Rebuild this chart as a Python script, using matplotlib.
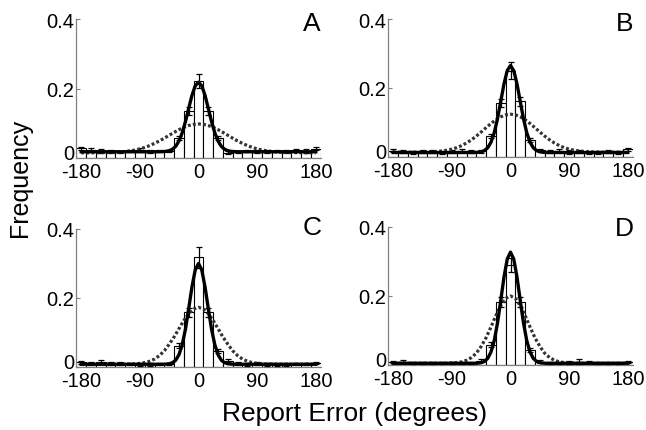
import numpy as np
import matplotlib
matplotlib.use("Agg")
import matplotlib.pyplot as plt
from matplotlib.transforms import ScaledTranslation

plt.rcParams['font.family'] = ['Liberation Sans', 'DejaVu Sans']
plt.rcParams['axes.unicode_minus'] = False

panels = ["A", "B", "C", "D"]
bin_centers = [-180, -165, -150, -135, -120, -105, -90, -75, -60, -45, -30, -15, 0,
               15, 30, 45, 60, 75, 90, 105, 120, 135, 150, 165, 180]

bars_A = [0.028, 0.022, 0.020, 0.018, 0.017, 0.020, 0.022, 0.018, 0.020, 0.020, 0.057, 0.135, 0.222,
          0.135, 0.058, 0.015, 0.017, 0.020, 0.018, 0.018, 0.020, 0.018, 0.022, 0.020, 0.027]
err_A = [0.004, 0.006, 0.005, 0.004, 0.004, 0.004, 0.006, 0.004, 0.004, 0.004, 0.006, 0.012, 0.020,
         0.012, 0.006, 0.004, 0.004, 0.004, 0.004, 0.004, 0.004, 0.004, 0.005, 0.005, 0.004]
bars_B = [0.018, 0.015, 0.014, 0.016, 0.015, 0.013, 0.016, 0.018, 0.016, 0.017, 0.060, 0.156, 0.250,
          0.161, 0.050, 0.020, 0.015, 0.018, 0.015, 0.017, 0.013, 0.014, 0.016, 0.014, 0.022]
err_B = [0.004, 0.004, 0.004, 0.004, 0.004, 0.004, 0.005, 0.004, 0.004, 0.004, 0.006, 0.012, 0.025,
         0.012, 0.006, 0.004, 0.004, 0.004, 0.005, 0.004, 0.004, 0.004, 0.004, 0.004, 0.004]
bars_C = [0.014, 0.010, 0.015, 0.010, 0.010, 0.009, 0.008, 0.008, 0.009, 0.009, 0.062, 0.158, 0.318,
          0.158, 0.047, 0.018, 0.010, 0.008, 0.010, 0.008, 0.007, 0.007, 0.008, 0.008, 0.012]
err_C = [0.004, 0.004, 0.005, 0.004, 0.004, 0.004, 0.004, 0.004, 0.004, 0.004, 0.007, 0.012, 0.030,
         0.012, 0.006, 0.004, 0.004, 0.004, 0.004, 0.004, 0.003, 0.003, 0.003, 0.003, 0.003]
bars_D = [0.008, 0.010, 0.007, 0.007, 0.007, 0.006, 0.006, 0.005, 0.006, 0.012, 0.059, 0.182, 0.290,
          0.183, 0.043, 0.010, 0.006, 0.006, 0.008, 0.010, 0.008, 0.007, 0.006, 0.006, 0.008]
err_D = [0.003, 0.004, 0.003, 0.003, 0.003, 0.003, 0.003, 0.003, 0.003, 0.004, 0.007, 0.015, 0.020,
         0.015, 0.006, 0.004, 0.003, 0.003, 0.004, 0.006, 0.003, 0.003, 0.003, 0.003, 0.003]

solid_x = [-180, -150, -120, -90, -60, -55, -50, -45, -40, -35, -30, -25, -20, -15, -10, -5, 0,
           5, 10, 15, 20, 25, 30, 35, 40, 45, 50, 55, 60, 90, 120, 150, 180]
solid_A = [0.018, 0.018, 0.018, 0.018, 0.018, 0.0184, 0.0191, 0.021, 0.0252, 0.0336, 0.0488, 0.0725,
           0.105, 0.1432, 0.1804, 0.2078, 0.218, 0.2078, 0.1804, 0.1432, 0.105, 0.0725, 0.0488,
           0.0336, 0.0252, 0.021, 0.0191, 0.0184, 0.018, 0.018, 0.018, 0.018, 0.018]
solid_B = [0.013, 0.013, 0.013, 0.013, 0.013, 0.013, 0.0137, 0.015, 0.0186, 0.0267, 0.0426, 0.070,
           0.1103, 0.1607, 0.2116, 0.2505, 0.265, 0.2505, 0.2116, 0.1607, 0.1103, 0.070, 0.0426,
           0.0267, 0.0186, 0.015, 0.0137, 0.013, 0.013, 0.013, 0.013, 0.013, 0.013]
solid_C = [0.008, 0.008, 0.008, 0.008, 0.008, 0.008, 0.0084, 0.0094, 0.0124, 0.0197, 0.0355, 0.0646,
           0.110, 0.1698, 0.2326, 0.2815, 0.300, 0.2815, 0.2326, 0.1698, 0.110, 0.0646, 0.0355,
           0.0197, 0.0124, 0.0094, 0.0084, 0.008, 0.008, 0.008, 0.008, 0.008, 0.008]
solid_D = [0.005, 0.005, 0.005, 0.005, 0.005, 0.005, 0.0055, 0.0068, 0.0104, 0.0191, 0.0374, 0.0704,
           0.121, 0.1863, 0.2546, 0.307, 0.327, 0.307, 0.2546, 0.1863, 0.121, 0.0704, 0.0374,
           0.0191, 0.0104, 0.0068, 0.0055, 0.005, 0.005, 0.005, 0.005, 0.005, 0.005]

dot_x = [-180, -165, -150, -135, -127.5, -120, -112.5, -105, -97.5, -90, -82.5, -75, -67.5, -60,
         -52.5, -45, -37.5, -30, -22.5, -15, -7.5, 0, 7.5, 15, 22.5, 30, 37.5, 45, 52.5, 60, 67.5,
         75, 82.5, 90, 97.5, 105, 112.5, 120, 127.5, 135, 150, 165, 180]
dot_A = [0.015, 0.015, 0.0155, 0.016, 0.0165, 0.0174, 0.0187, 0.0205, 0.0229, 0.0262, 0.0305,
         0.0357, 0.042, 0.049, 0.057, 0.0654, 0.0737, 0.0815, 0.0882, 0.0935, 0.0968, 0.098,
         0.0968, 0.0935, 0.0882, 0.0815, 0.0737, 0.0654, 0.057, 0.049, 0.042, 0.0357, 0.0305,
         0.0262, 0.0229, 0.0205, 0.0187, 0.0174, 0.0165, 0.016, 0.0155, 0.015, 0.015]
dot_B = [0.014, 0.014, 0.014, 0.0143, 0.0147, 0.0152, 0.0161, 0.0175, 0.0196, 0.0228, 0.0271,
         0.033, 0.0405, 0.0498, 0.0605, 0.0724, 0.085, 0.097, 0.108, 0.1165, 0.122, 0.124,
         0.122, 0.1165, 0.108, 0.097, 0.085, 0.0724, 0.0605, 0.0498, 0.0405, 0.033, 0.0271,
         0.0228, 0.0196, 0.0175, 0.0161, 0.0152, 0.0147, 0.0143, 0.014, 0.014, 0.014]
dot_C = [0.008, 0.008, 0.008, 0.008, 0.008, 0.008, 0.0082, 0.0085, 0.009, 0.0104, 0.0128,
         0.0168, 0.023, 0.033, 0.047, 0.066, 0.087, 0.111, 0.135, 0.155, 0.168, 0.173,
         0.168, 0.155, 0.135, 0.111, 0.087, 0.066, 0.047, 0.033, 0.023, 0.0168, 0.0128,
         0.0104, 0.009, 0.0085, 0.0082, 0.008, 0.008, 0.008, 0.008, 0.008, 0.008]
dot_D = [0.005, 0.005, 0.005, 0.005, 0.005, 0.005, 0.005, 0.005, 0.0052, 0.0058, 0.007,
         0.009, 0.0136, 0.0215, 0.034, 0.054, 0.079, 0.110, 0.143, 0.172, 0.193, 0.200,
         0.193, 0.172, 0.143, 0.110, 0.079, 0.054, 0.034, 0.0215, 0.0136, 0.009, 0.007,
         0.0058, 0.0052, 0.005, 0.005, 0.005, 0.005, 0.005, 0.005, 0.005, 0.005]

x_ticks = [-180, -90, 0, 90, 180]
x_ticklabels = ["-180", "-90", "0", "90", "180"]
y_ticks = [0, 0.2, 0.4]
y_ticklabels = ["0", "0.2", "0.4"]

bars = [bars_A, bars_B, bars_C, bars_D]
errs = [err_A, err_B, err_C, err_D]
solids = [solid_A, solid_B, solid_C, solid_D]
dots = [dot_A, dot_B, dot_C, dot_D]

W, H = 646, 431
fig = plt.figure(figsize=(W / 100, H / 100), dpi=100)

# axes boxes in pixels: left, top, right, bottom
boxes = [(76, 20, 321, 159), (388, 20, 633, 158), (76, 230, 321, 368), (388, 228, 633, 366)]
letter_pos = [(0.963, 0.97), (0.967, 0.97), (0.963, 1.018), (0.963, 0.99)]

for i, (l, t, r, b) in enumerate(boxes):
    ax = fig.add_axes([l / W, 1 - b / H, (r - l) / W, (b - t) / H])
    ax.bar(bin_centers, bars[i], width=15, color="white", edgecolor="black", linewidth=0.8, zorder=2)
    ax.errorbar(bin_centers, bars[i], yerr=errs[i], fmt="none", ecolor="black", elinewidth=0.9,
                capsize=2.5, capthick=0.9, zorder=3)
    ax.plot(dot_x, dots[i], color="#333333", linestyle=(0, (0.9, 0.7)), linewidth=2.3, zorder=4)
    ax.plot(solid_x, solids[i], color="black", linewidth=2.4, zorder=5)
    ax.set_xlim(-188, 188)
    ax.set_ylim(0, 0.4)
    ax.set_xticks(x_ticks)
    ax.set_xticklabels(x_ticklabels)
    ax.set_yticks(y_ticks)
    ax.set_yticklabels(y_ticklabels)
    ax.tick_params(axis="both", direction="in", length=3, width=0.8, colors="#808080",
                   labelcolor="black", labelsize=14.5)
    ax.tick_params(axis="x", pad=3)
    ax.tick_params(axis="y", pad=1)
    # lift the "0" y label slightly, as in the reference
    ylabs = ax.get_yticklabels()
    ylabs[0].set_transform(ylabs[0].get_transform() + ScaledTranslation(0, 5 / 72, fig.dpi_scale_trans))
    for s in ["top", "right"]:
        ax.spines[s].set_visible(False)
    for s in ["left", "bottom"]:
        ax.spines[s].set_color("#808080")
        ax.spines[s].set_linewidth(0.9)
    ax.text(letter_pos[i][0], letter_pos[i][1], panels[i], transform=ax.transAxes,
            ha="center", va="center", fontsize=19)

fig.text(20 / W, 1 - 178 / H, "Frequency", rotation=90, ha="center", va="center", fontsize=18)
fig.text(354.5 / W, 1 - 414 / H, "Report Error (degrees)", ha="center", va="center", fontsize=19)

fig.savefig("out.png", dpi=100)
